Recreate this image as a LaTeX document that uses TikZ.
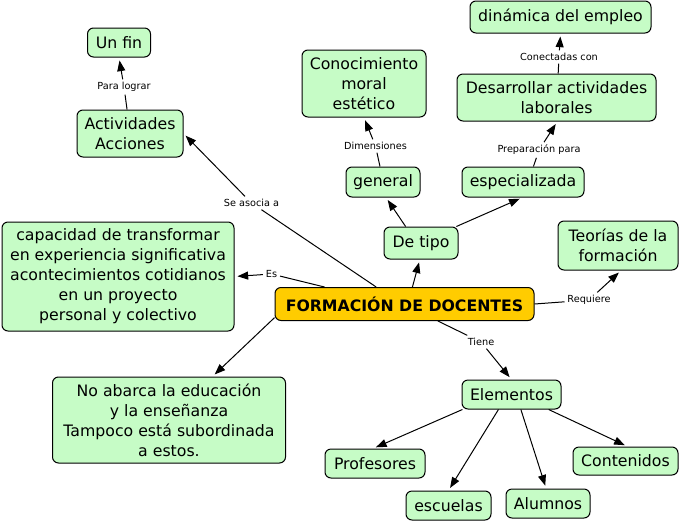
\documentclass[tikz,border=0pt]{standalone}
\usepackage{fontspec}
\setmainfont{DejaVu Sans}
\usetikzlibrary{arrows.meta}
\definecolor{boxgreen}{RGB}{198,252,198}
\definecolor{mainyel}{RGB}{255,204,0}
\tikzset{
  sz/.style 2 args={minimum width=#1*0.75pt, minimum height=#2*0.75pt},
  concept/.style={draw=black, line width=0.75pt, rounded corners=4.5pt, fill=boxgreen,
    inner sep=0pt, align=center, font=\fontsize{11.8}{15}\selectfont},
  mainbox/.style={concept, fill=mainyel, font=\fontsize{11.8}{15}\selectfont\bfseries},
  lbl/.style={inner sep=2pt, font=\fontsize{7.3}{9}\selectfont},
  conn/.style={line width=0.75pt, draw=black},
  arr/.style={conn, -{Triangle[length=8pt,width=6pt]}, shorten >=2.25pt}
}
\begin{document}
\begin{tikzpicture}[x=0.75pt,y=-0.75pt]
\useasboundingbox (0,0) rectangle (686,522);
\fill[white] (0,0) rectangle (686,522);
% concepts
\node[concept, sz={63}{29}] (unfin) at (119,42.5) {Un fin};
\node[concept, sz={106}{47}] (activ) at (130,133.5) {Actividades\\Acciones};
\node[concept, sz={232}{109}] (capac) at (118,276.5) {capacidad de transformar\\en experiencia significativa\\acontecimientos cotidianos\\en un proyecto\\personal y colectivo};
\node[mainbox, sz={259}{33}] (main) at (404.5,304) {FORMACIÓN DE DOCENTES};
\node[concept, sz={233}{86}] (noab) at (169,420) {No abarca la educación\\y la enseñanza\\Tampoco está subordinada\\a estos.};
\node[concept, sz={124}{67}] (conoc) at (364,83.5) {Conocimiento\\moral\\estético};
\node[concept, sz={74}{30}] (general) at (383,182) {general};
\node[concept, sz={74}{32}] (detipo) at (421,243) {De tipo};
\node[concept, sz={122}{30}] (espec) at (523,182) {especializada};
\node[concept, sz={199}{47}] (desarr) at (556.5,97.5) {Desarrollar actividades\\laborales};
\node[concept, sz={181}{32}] (dinam) at (560.5,17) {dinámica del empleo};
\node[concept, sz={120}{49}] (teorias) at (618,245.5) {Teorías de la\\formación};
\node[concept, sz={99}{29}] (elem) at (511.5,394.5) {Elementos};
\node[concept, sz={100}{29}] (prof) at (375,463.5) {Profesores};
\node[concept, sz={85}{29}] (escu) at (448.5,505.5) {escuelas};
\node[concept, sz={84}{29}] (alum) at (548,503.5) {Alumnos};
\node[concept, sz={105}{28}] (cont) at (625.5,461) {Contenidos};
% link labels
\node[lbl] (lpara) at (124,87) {Para lograr};
\node[lbl] (lse) at (251.5,203) {Se asocia a};
\node[lbl] (les) at (271.5,274) {Es};
\node[lbl] (ldim) at (375.5,146) {Dimensiones};
\node[lbl] (lprep) at (539,150) {Preparación para};
\node[lbl] (lcon) at (559,57) {Conectadas con};
\node[lbl] (lreq) at (589,300) {Requiere};
\node[lbl] (ltiene) at (481,342) {Tiene};
% connectors
\draw[conn] (activ.97) -- (lpara);
\draw[arr] (lpara) -- (unfin.south);
\draw[conn] (main.149) -- (lse);
\draw[arr] (lse) -- (activ.east);
\draw[conn] (main.168) -- (les);
\draw[arr] (les) -- (capac.east);
\draw[arr] (main.186) -- (noab.45);
\draw[arr] (main.65) -- (detipo.266);
\draw[arr] (detipo.133) -- (general.281);
\draw[arr] (detipo.25) -- (espec.268);
\draw[conn] (general.101) -- (ldim);
\draw[arr] (ldim) -- (conoc.south);
\draw[conn] (espec.56) -- (lprep);
\draw[arr] (lprep) -- (desarr.272);
\draw[conn] (desarr.86) -- (lcon);
\draw[arr] (lcon) -- (dinam.south);
\draw[conn] (main.east) -- (lreq);
\draw[arr] (lreq) -- (teorias.277);
\draw[conn] (main.-27) -- (ltiene);
\draw[arr] (ltiene) -- (elem.north);
\draw[arr] (elem.197) -- (prof.97);
\draw[arr] (elem.229) -- (escu.north);
\draw[arr] (elem.-58) -- (alum.97);
\draw[arr] (elem.-22) -- (cont.82);
\end{tikzpicture}
\end{document}
